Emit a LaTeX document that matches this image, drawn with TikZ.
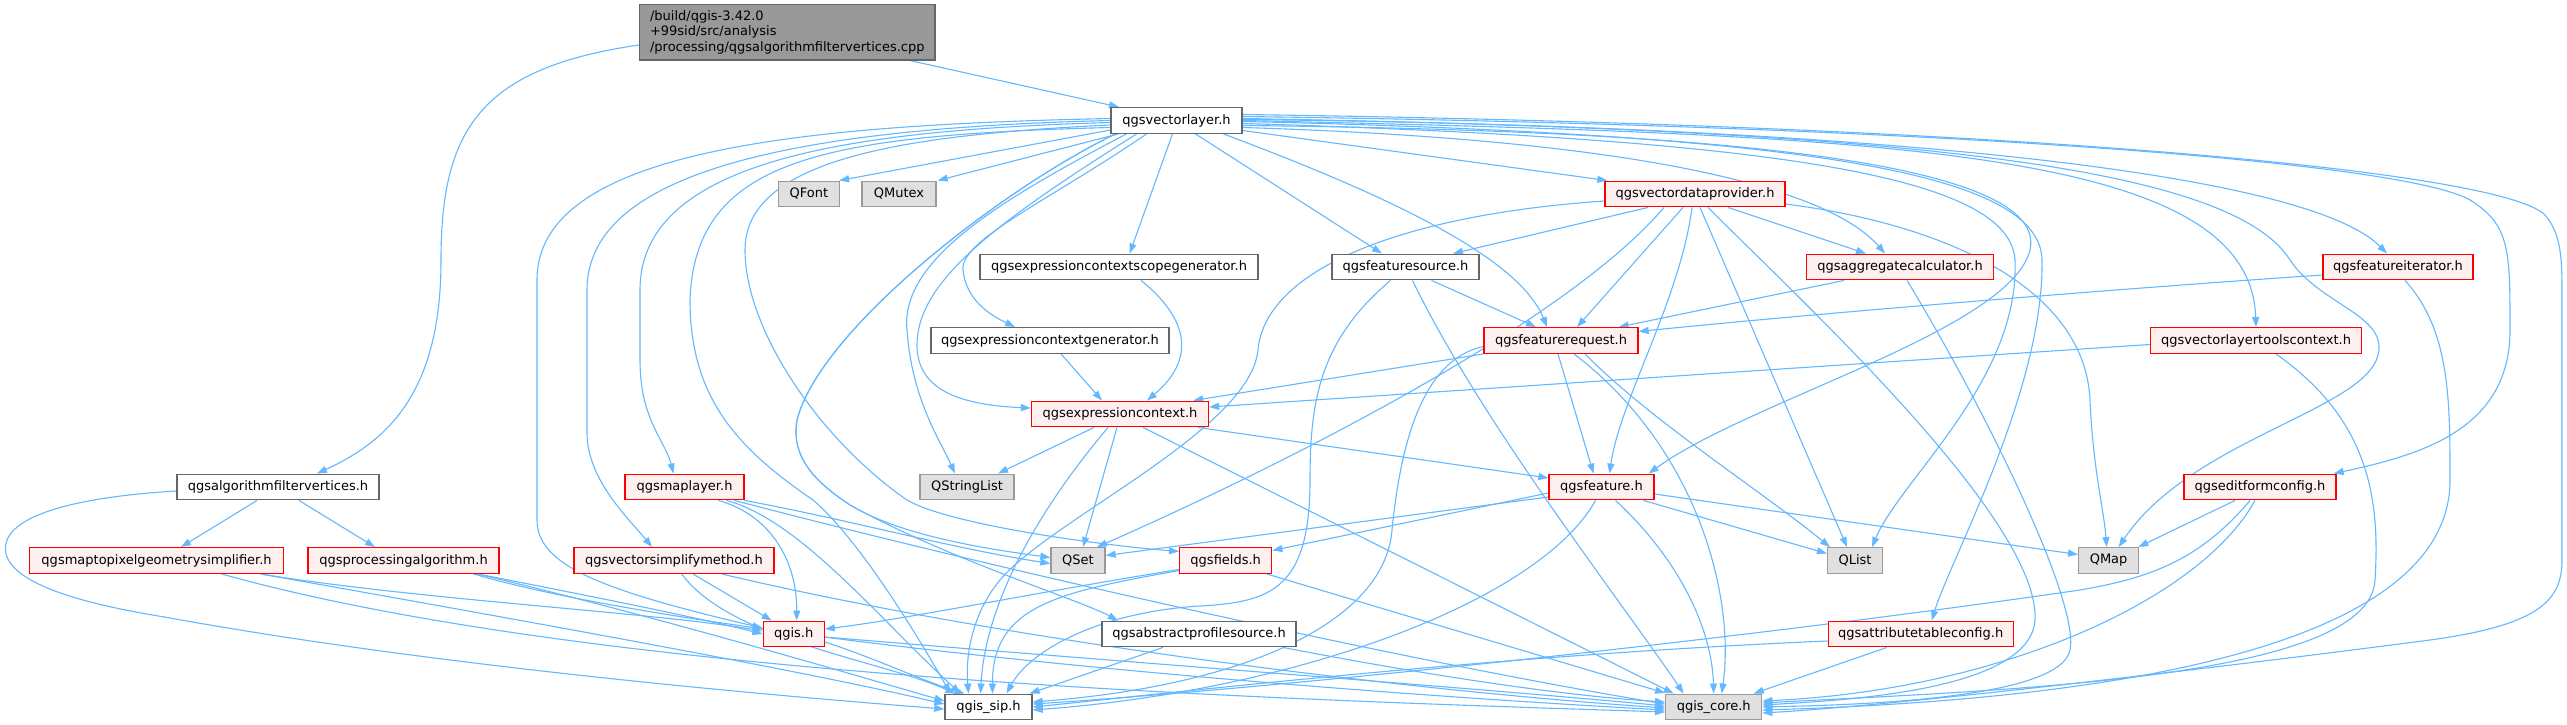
\documentclass[tikz,border=0pt]{standalone}
\usepackage{fontspec}
\setmainfont{DejaVu Sans}
\usetikzlibrary{arrows.meta}
\pgfdeclarelayer{bg}
\pgfsetlayers{bg,main}
\definecolor{edgeblue}{HTML}{63B8FF}
\definecolor{redfill}{HTML}{FFF0F0}
\definecolor{grayfill}{HTML}{E0E0E0}
\definecolor{grayline}{HTML}{999999}
\definecolor{darkline}{HTML}{666666}
\definecolor{rootfill}{HTML}{999999}
\begin{document}
\begin{tikzpicture}[x=1pt,y=-1pt,
  box/.style={rectangle, inner sep=0pt, minimum height=25.6pt, line width=1.3pt, font=\fontsize{13}{15.3}\selectfont, text=black},
  rnode/.style={box, draw=red, fill=redfill},
  wnode/.style={box, draw=darkline, fill=white},
  gnode/.style={box, draw=grayline, fill=grayfill},
  edg/.style={draw=edgeblue, line width=1.1pt, -{Triangle[length=10pt,width=7pt]}},
]
\useasboundingbox (0,0) rectangle (2567,725);

% nodes
\node[box, draw=darkline, fill=rootfill, minimum width=295.4pt, minimum height=55.3pt, align=left] (root) at (787.3,32.4) {/build/qgis-3.42.0\\+99sid/src/analysis\\/processing/qgsalgorithmfiltervertices.cpp};
\node[wnode, minimum width=131pt] (vl) at (1176.5,120.5) {qgsvectorlayer.h};
\node[gnode, minimum width=61pt] (QFont) at (809,194) {QFont};
\node[gnode, minimum width=74pt] (QMutex) at (899,194) {QMutex};
\node[rnode, minimum width=180pt] (vdp) at (1695,194) {qgsvectordataprovider.h};
\node[wnode, minimum width=278pt] (scopegen) at (1119,267) {qgsexpressioncontextscopegenerator.h};
\node[wnode, minimum width=147pt] (fsrc) at (1405.5,267) {qgsfeaturesource.h};
\node[rnode, minimum width=187pt] (agg) at (1900,267) {qgsaggregatecalculator.h};
\node[rnode, minimum width=150pt] (fiter) at (2398,267) {qgsfeatureiterator.h};
\node[wnode, minimum width=238pt] (cgen) at (1050,340.5) {qgsexpressioncontextgenerator.h};
\node[rnode, minimum width=154pt] (freq) at (1561,340.5) {qgsfeaturerequest.h};
\node[rnode, minimum width=211pt] (vltc) at (2256,340.5) {qgsvectorlayertoolscontext.h};
\node[rnode, minimum width=177pt] (expr) at (1120,414) {qgsexpressioncontext.h};
\node[rnode, minimum width=105pt] (feat) at (1601.5,487) {qgsfeature.h};
\node[gnode, minimum width=94pt] (QSL) at (967,487) {QStringList};
\node[wnode, minimum width=202pt] (algfv) at (278,487) {qgsalgorithmfiltervertices.h};
\node[rnode, minimum width=119pt] (ml) at (684.5,487) {qgsmaplayer.h};
\node[rnode, minimum width=152pt] (efc) at (2260,487) {qgseditformconfig.h};
\node[gnode, minimum width=54pt] (QSet) at (1078,560.5) {QSet};
\node[rnode, minimum width=92pt] (fields) at (1225.7,560.5) {qgsfields.h};
\node[gnode, minimum width=55pt] (QList) at (1855,560.5) {QList};
\node[gnode, minimum width=60pt] (QMap) at (2108.6,560.5) {QMap};
\node[rnode, minimum width=254pt] (m2p) at (156.6,560.5) {qgsmaptopixelgeometrysimplifier.h};
\node[rnode, minimum width=191pt] (proc) at (403.5,560.5) {qgsprocessingalgorithm.h};
\node[rnode, minimum width=200pt] (vsm) at (674,560.5) {qgsvectorsimplifymethod.h};
\node[rnode, minimum width=61pt] (qgis) at (793.7,634) {qgis.h};
\node[wnode, minimum width=194pt] (aps) at (1199,634) {qgsabstractprofilesource.h};
\node[rnode, minimum width=185pt] (atc) at (1920.7,634) {qgsattributetableconfig.h};
\node[wnode, minimum width=87pt] (sip) at (988.5,707) {qgis\_sip.h};
\node[gnode, minimum width=96pt] (core) at (1713.7,707) {qgis\_core.h};

\begin{pgfonlayer}{bg}
\fill[white] (0,0) rectangle (2567,725);
% root
\draw[edg] ([xshift=-25pt]root.south east) -- ([xshift=-57.5pt]vl.north);
\draw[edg] ([yshift=-12.6pt]root.west) .. controls (480,68) and (441,130) .. (441,260) .. controls (441,390) and (390,440) .. ([xshift=39pt]algfv.north);
% algorithmfiltervertices
\draw[edg] ([xshift=-21pt]algfv.south) -- ([xshift=24.4pt]m2p.north);
\draw[edg] ([xshift=21pt]algfv.south) -- ([xshift=-28.5pt]proc.north);
\draw[edg] ([yshift=-4pt]algfv.west) .. controls (60,498) and (3,520) .. (5.5,550) .. controls (8,585) and (90,605) .. (164.5,617) .. controls (400,660) and (700,690) .. ([yshift=-2pt]sip.west);
% maptopixel
\draw[edg] ([xshift=104pt]m2p.south) .. controls (420,600) and (650,612) .. ([yshift=3pt]qgis.west);
\draw[edg] ([xshift=104pt]m2p.south) .. controls (520,620) and (800,670) .. ([yshift=3pt]sip.west);
\draw[edg] ([xshift=65pt]m2p.south) .. controls (600,680) and (1300,700) .. ([yshift=-5pt]core.west);
% processingalgorithm
\draw[edg] ([xshift=74pt]proc.south) .. controls (600,598) and (700,618) .. ([yshift=0pt]qgis.west);
\draw[edg] ([xshift=74pt]proc.south) .. controls (650,615) and (820,665) .. ([yshift=6pt]sip.west);
\draw[edg] ([xshift=70pt]proc.south) .. controls (700,640) and (1300,690) .. ([yshift=-3pt]core.west);
% vectorsimplifymethod
\draw[edg] ([xshift=19pt]vsm.south) -- ([xshift=-22pt]qgis.north);
\draw[edg] ([xshift=7.7pt]vsm.south) .. controls (730,640) and (880,660) .. ([xshift=-33pt]sip.north);
\draw[edg] ([xshift=47.7pt]vsm.south) .. controls (1000,640) and (1400,690) .. ([yshift=-1pt]core.west);
% qgis.h
\draw[edg] ([yshift=-8pt]qgis.east) .. controls (880,660) and (920,680) .. ([xshift=-24pt]sip.north);
\draw[edg] ([yshift=-3pt]qgis.east) .. controls (1100,660) and (1500,690) .. ([yshift=1pt]core.west);
% maplayer
\draw[edg] ([xshift=34pt]ml.south) .. controls (770,515) and (797,560) .. ([xshift=3pt]qgis.north);
\draw[edg] ([xshift=42pt]ml.south) .. controls (800,520) and (880,620) .. ([xshift=-28pt]sip.north);
\draw[edg] (ml.south east) .. controls (850,520) and (950,548) .. ([yshift=-3pt]QSet.west);
\draw[edg] ([xshift=50pt]ml.south) .. controls (1000,570) and (1400,660) .. ([yshift=3pt]core.west);
% vectorlayer, left side
\draw[edg] ([yshift=-9.5pt]vl.west) -- ([xshift=-1pt]QFont.north east);
\draw[edg] ([xshift=8pt]vl.south west) -- ([xshift=1pt]QMutex.north east);
\draw[edg] ([yshift=2pt]vl.west) .. controls (800,125) and (537,150) .. (537,280) -- (537,520) .. controls (537,565) and (600,590) .. ([yshift=6pt]qgis.west);
\draw[edg] ([yshift=0pt]vl.west) .. controls (800,128) and (587,170) .. (587,290) -- (587,433) .. controls (587,480) and (630,520) .. ([xshift=-22pt]vsm.north);
\draw[edg] ([yshift=-2pt]vl.west) .. controls (850,130) and (640,160) .. (640,290) -- (640,360) .. controls (640,420) and (665,440) .. ([xshift=-11pt]ml.north);
\draw[edg] ([yshift=-7pt]vl.west) .. controls (820,135) and (695,160) .. (690,300) .. controls (690,400) and (740,450) .. (813,500) .. controls (860,540) and (920,640) .. ([xshift=-38pt]sip.north);
\draw[edg] ([yshift=-4.5pt]vl.west) .. controls (900,135) and (745,160) .. (745,250) .. controls (745,330) and (820,440) .. (907,500) .. controls (950,525) and (1100,545) .. ([yshift=9pt]fields.west);
\draw[edg] ([xshift=5pt]vl.south west) .. controls (1000,190) and (820,330) .. (797,420) .. controls (790,460) and (820,485) .. (850,505) .. controls (900,535) and (980,548) .. ([yshift=3pt]QSet.west);
\draw[edg] ([xshift=5pt]vl.south west) .. controls (1000,190) and (820,330) .. (797,420) .. controls (790,460) and (820,485) .. (850,505) .. controls (950,560) and (1080,600) .. ([xshift=-81pt]aps.north);
\draw[edg] ([xshift=-50pt]vl.south) .. controls (1000,200) and (900,260) .. (907,330) .. controls (912,400) and (940,440) .. ([xshift=-12pt]QSL.north);
\draw[edg] ([xshift=-40pt]vl.south) .. controls (1000,220) and (917,280) .. (917,345) .. controls (917,390) and (960,405) .. ([yshift=6pt]expr.west);
\draw[edg] ([xshift=-30pt]vl.south) .. controls (1050,200) and (960,240) .. (963,270) .. controls (966,300) and (990,315) .. ([xshift=-35pt]cgen.north);
\draw[edg] ([xshift=-4pt]vl.south) -- ([xshift=10.6pt]scopegen.north);
\draw[edg] ([xshift=19pt]vl.south) -- ([xshift=-23.5pt]fsrc.north);
\draw[edg] ([xshift=47pt]vl.south) .. controls (1400,200) and (1520,260) .. ([xshift=-14pt]freq.north);
\draw[edg] ([yshift=-10pt]vl.east) -- ([xshift=3pt]vdp.north west);
% vectorlayer, right side
\draw[edg] ([yshift=-7pt]vl.east) .. controls (1650,140) and (1830,190) .. ([xshift=-15pt]agg.north);
\draw[edg] ([yshift=-5pt]vl.east) .. controls (1700,130) and (2050,160) .. (2030,250) .. controls (2010,330) and (1750,400) .. ([xshift=-6pt]feat.north east);
\draw[edg] ([yshift=-3pt]vl.east) .. controls (1800,140) and (2010,180) .. (2015,260) .. controls (2020,380) and (1900,480) .. ([xshift=17pt]QList.north);
\draw[edg] ([yshift=-1pt]vl.east) .. controls (1850,135) and (2040,180) .. (2042,260) .. controls (2044,390) and (1950,560) .. ([xshift=11pt]atc.north);
\draw[edg] ([yshift=1pt]vl.east) .. controls (1800,125) and (2300,165) .. ([xshift=-11pt]fiter.north);
\draw[edg] ([yshift=0pt]vl.east) .. controls (1900,135) and (2250,150) .. (vltc.north);
\draw[edg] ([yshift=2pt]vl.east) .. controls (1900,130) and (2230,165) .. (2290,260) .. controls (2320,305) and (2388,315) .. (2378,355) .. controls (2365,410) and (2190,440) .. ([xshift=10pt]QMap.north);
\draw[edg] ([yshift=4pt]vl.east) .. controls (1900,125) and (2400,160) .. (2470,200) .. controls (2510,225) and (2510,250) .. (2510,330) .. controls (2510,430) and (2420,455) .. ([xshift=-3pt]efc.north east);
\draw[edg] ([yshift=6pt]vl.east) .. controls (2000,125) and (2500,170) .. (2545,215) .. controls (2562,235) and (2562,260) .. (2562,300) -- (2562,560) .. controls (2562,600) and (2540,625) .. (2430,640) .. controls (2200,670) and (1900,705) .. ([yshift=-6pt]core.east);
% vectordataprovider
\draw[edg] ([yshift=-7pt]vdp.west) .. controls (1400,215) and (1265,270) .. (1258,350) .. controls (1250,430) and (1050,520) .. (1000,580) .. controls (975,610) and (965,650) .. ([xshift=-20pt]sip.north);
\draw[edg] ([xshift=-47pt]vdp.south) -- ([xshift=47.5pt]fsrc.north);
\draw[edg] ([xshift=-12pt]vdp.south) -- ([xshift=16pt]freq.north);
\draw[edg] ([xshift=33pt]vdp.south) -- ([xshift=-34pt]agg.north);
\draw[edg] ([xshift=-3pt]vdp.south) .. controls (1680,300) and (1620,400) .. ([xshift=8pt]feat.north);
\draw[edg] ([xshift=5pt]vdp.south) -- ([xshift=-8pt]QList.north);
\draw[edg] ([xshift=13pt]vdp.south) .. controls (1800,300) and (2040,520) .. (2035,620) .. controls (2030,690) and (1850,700) .. ([yshift=2pt]core.east);
\draw[edg] ([yshift=-10pt]vdp.east) .. controls (1950,225) and (2085,290) .. (2090,400) .. controls (2093,470) and (2104,510) .. ([xshift=-2pt]QMap.north);
\draw[edg] ([xshift=-31pt]vdp.south) .. controls (1560,330) and (1250,480) .. ([xshift=19pt]QSet.north);
% featuresource
\draw[edg] ([xshift=26pt]fsrc.south) -- ([xshift=-25pt]freq.north);
\draw[edg] ([xshift=-15pt]fsrc.south) .. controls (1320,340) and (1310,400) .. (1310,480) .. controls (1310,590) and (1270,602) .. (1200,606) .. controls (1100,612) and (1030,650) .. ([xshift=18pt]sip.north);
\draw[edg] ([xshift=7pt]fsrc.south) .. controls (1480,420) and (1620,600) .. ([xshift=-30pt]core.north);
% aggregatecalculator
\draw[edg] ([xshift=-56pt]agg.south) -- ([xshift=-20pt]freq.north east);
\draw[edg] ([xshift=7pt]agg.south) .. controls (1980,400) and (2080,600) .. (2070,650) .. controls (2060,700) and (1850,705) .. (core.east);
% featureiterator
\draw[edg] ([yshift=-8pt]fiter.west) .. controls (2100,290) and (1800,315) .. ([yshift=9pt]freq.east);
\draw[edg] ([xshift=7pt]fiter.south) .. controls (2450,330) and (2450,400) .. (2450,480) .. controls (2450,650) and (2100,700) .. ([yshift=-3pt]core.east);
% vectorlayertoolscontext
\draw[edg] ([yshift=-4pt]vltc.west) -- ([yshift=7pt]expr.east);
\draw[edg] ([xshift=20pt]vltc.south) .. controls (2370,420) and (2380,500) .. (2375,580) .. controls (2370,680) and (2000,690) .. ([yshift=4pt]core.east);
% generators
\draw[edg] ([xshift=22pt]scopegen.south) .. controls (1190,320) and (1195,360) .. ([xshift=27pt]expr.north);
\draw[edg] ([xshift=11pt]cgen.south) -- ([xshift=-18pt]expr.north);
% featurerequest
\draw[edg] (freq.south west) -- ([xshift=-16pt]expr.north east);
\draw[edg] ([xshift=-3pt]freq.south) -- ([xshift=-8pt]feat.north);
\draw[edg] ([xshift=24pt]freq.south) .. controls (1650,420) and (1760,490) .. ([xshift=-25pt]QList.north);
\draw[edg] ([xshift=13pt]freq.south) .. controls (1700,450) and (1735,600) .. ([xshift=8pt]core.north);
\draw[edg] ([yshift=-6pt]freq.west) .. controls (1420,360) and (1400,450) .. (1392,530) .. controls (1385,620) and (1250,685) .. ([yshift=5pt]sip.east);
% expressioncontext
\draw[edg] ([xshift=-26pt]expr.south) -- ([xshift=31pt]QSL.north);
\draw[edg] ([xshift=-3pt]expr.south) -- ([xshift=5pt]QSet.north);
\draw[edg] ([xshift=-12pt]expr.south) .. controls (1030,520) and (985,610) .. ([xshift=-8pt]sip.north);
\draw[edg] ([xshift=23pt]expr.south) -- ([xshift=-40pt]core.north);
\draw[edg] ([xshift=78pt]expr.south) -- ([yshift=9pt]feat.west);
% feature
\draw[edg] ([yshift=-10pt]feat.west) -- ([yshift=5pt]QSet.east);
\draw[edg] ([yshift=-6pt]feat.west) -- ([yshift=10pt]fields.east);
\draw[edg] ([xshift=42pt]feat.south) -- ([yshift=7pt]QList.west);
\draw[edg] ([yshift=-7pt]feat.east) -- ([yshift=6pt]QMap.west);
\draw[edg] ([xshift=-6pt]feat.south) .. controls (1540,600) and (1300,690) .. ([yshift=-3pt]sip.east);
\draw[edg] ([xshift=14pt]feat.south) .. controls (1680,560) and (1712,630) .. (core.north);
% fields
\draw[edg] ([yshift=-9pt]fields.west) .. controls (1050,590) and (900,620) .. ([yshift=5pt]qgis.east);
\draw[edg] ([yshift=-10pt]fields.west) .. controls (1060,592) and (992,605) .. ([xshift=4pt]sip.north);
\draw[edg] ([xshift=41pt]fields.south) -- ([yshift=14pt]core.west);
% abstractprofilesource
\draw[edg] ([xshift=-36pt]aps.south) -- ([xshift=-3pt]sip.north east);
\draw[edg] ([xshift=84pt]aps.south) .. controls (1400,670) and (1550,695) .. ([yshift=5pt]core.west);
% attributetableconfig
\draw[edg] ([yshift=-7pt]atc.west) .. controls (1500,655) and (1200,690) .. (sip.east);
\draw[edg] ([xshift=-34pt]atc.south) -- ([xshift=40pt]core.north);
% editformconfig
\draw[edg] ([xshift=-25pt]efc.south) -- ([xshift=-1pt]QMap.north east);
\draw[edg] ([xshift=-10pt]efc.south) .. controls (2200,560) and (2150,578) .. (2080,590) .. controls (1700,645) and (1250,690) .. ([yshift=3pt]sip.east);
\draw[edg] ([xshift=-5pt]efc.south) .. controls (2200,600) and (2000,690) .. ([yshift=6pt]core.east);
\end{pgfonlayer}
\end{tikzpicture}
\end{document}
